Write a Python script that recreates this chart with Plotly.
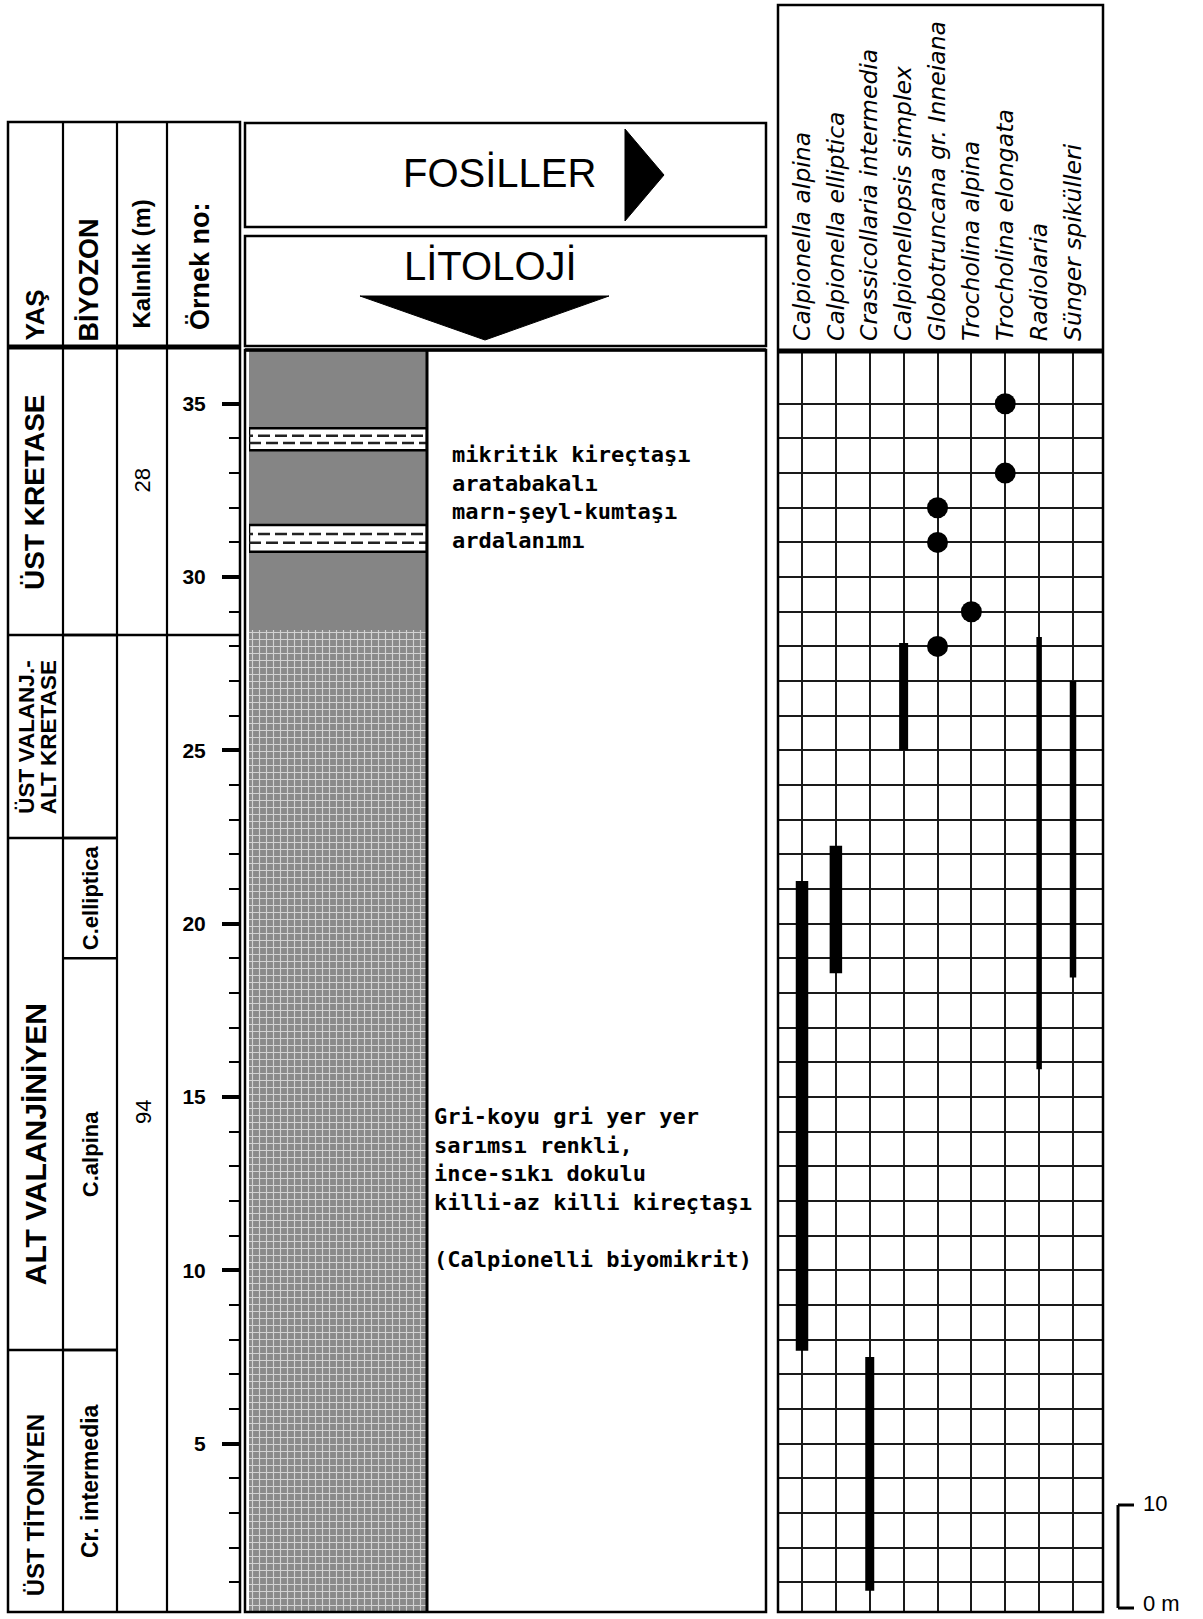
import plotly.graph_objects as go

W, H = 1203, 1619

# ---------------- data ----------------
sample_major = [5, 10, 15, 20, 25, 30, 35]
sample_minor = [1, 2, 3, 4, 6, 7, 8, 9, 11, 12, 13, 14, 16, 17, 18, 19,
                21, 22, 23, 24, 26, 27, 28, 29, 31, 32, 33, 34]
sample_grid = [1, 2, 3, 4, 5, 6, 7, 8, 9, 10, 11, 12, 13, 14, 15, 16, 17, 18,
               19, 20, 21, 22, 23, 24, 25, 26, 27, 28, 29, 30, 31, 32, 33, 34, 35]
y_range = [0.14, 36.58]

age_names = ["ÜST TİTONİYEN", "ALT VALANJİNİYEN", "ÜST VALANJ.-<br>ALT KRETASE", "ÜST KRETASE"]
age_bounds = [0.14, 7.70, 22.47, 28.33, 36.58]

biozone_names = ["Cr. intermedia", "C.alpina", "C.elliptica", "", ""]
biozone_bounds = [0.14, 7.70, 19.0, 22.47, 28.33, 36.58]

thickness_labels = ["94", "28"]
thickness_bounds = [0.14, 28.33, 36.58]

lith_lower = [0.14, 28.47]      # killi kireçtaşı
lith_upper = [28.47, 36.58]     # marn-şeyl-kumtaşı ardalanımı
limestone_beds_bottom = [30.73, 33.66]
limestone_beds_top = [31.50, 34.29]

desc_upper = ["mikritik kireçtaşı", "aratabakalı", "marn-şeyl-kumtaşı", "ardalanımı"]
desc_lower = ["Gri-koyu gri yer yer", "sarımsı renkli,", "ince-sıkı dokulu",
              "killi-az killi kireçtaşı", " ", "(Calpionelli biyomikrit)"]

taxa = ["Calpionella alpina", "Calpionella elliptica", "Crassicollaria intermedia",
        "Calpionellopsis simplex", "Globotruncana gr. Inneiana", "Trocholina alpina",
        "Trocholina elongata", "Radiolaria", "Sünger spikülleri"]

range_taxa = ["Calpionella alpina", "Calpionella elliptica", "Crassicollaria intermedia",
              "Calpionellopsis simplex", "Radiolaria", "Sünger spikülleri"]
range_bottom = [7.68, 18.57, 0.75, 25.0, 15.8, 18.45]
range_top = [21.23, 22.25, 7.5, 28.1, 28.27, 27.0]

point_taxa = ["Trocholina elongata", "Trocholina elongata", "Globotruncana gr. Inneiana",
              "Globotruncana gr. Inneiana", "Trocholina alpina", "Globotruncana gr. Inneiana"]
point_samples = [35, 33, 32, 31, 29, 28]

# ---------------- styles / placement tweaks ----------------
range_line_widths = [12.5, 12.5, 9, 9, 5.5, 6.5]
age_font_sizes = [24, 30, 22.5, 28]
age_label_shift = [-0.7, -1.45, 0.0, 0.0]     # label offset inside its cell (axis units)
biozone_font_sizes = [23, 22, 22, 22, 22]
thickness_label_shift = 0.33
col_edges = [8, 63, 117, 167, 240]
BLACK = "black"
SANS = "Liberation Sans"
MONO = "DejaVu Sans Mono"


def X(px):
    return px / W


def Y(px):
    return 1 - px / H


Y_DOM = [Y(1612), Y(349)]

fig = go.Figure()

# ---- left table horizontal boundaries (data y) ----
tx, ty = [], []
for b in age_bounds[1:-1]:
    tx += [col_edges[0], col_edges[2], None]
    ty += [b, b, None]
for b in biozone_bounds[1:-1]:
    tx += [col_edges[1], col_edges[2], None]
    ty += [b, b, None]
for b in thickness_bounds[1:-1]:
    tx += [col_edges[2], col_edges[4], None]
    ty += [b, b, None]
fig.add_trace(go.Scatter(x=tx, y=ty, mode="lines", line=dict(color=BLACK, width=2.5),
                         xaxis="x", yaxis="y", hoverinfo="skip", showlegend=False,
                         cliponaxis=False))

# ---- lithology column ----
fig.add_trace(go.Bar(
    x=[0.5], width=[1], base=[lith_lower[0]], y=[lith_lower[1] - lith_lower[0]],
    marker=dict(color="#8e8e8e", line=dict(width=0),
                pattern=dict(shape="+", size=7, solidity=0.3, fgcolor="#d2d2d2",
                             bgcolor="#8a8a8a", fillmode="replace")),
    xaxis="x2", yaxis="y2", hoverinfo="skip", showlegend=False))
fig.add_trace(go.Bar(
    x=[0.5], width=[1], base=[lith_upper[0]], y=[lith_upper[1] - lith_upper[0]],
    marker=dict(color="#858585", line=dict(width=0)),
    xaxis="x2", yaxis="y2", hoverinfo="skip", showlegend=False))
for b0, b1 in zip(limestone_beds_bottom, limestone_beds_top):
    fig.add_trace(go.Bar(
        x=[0.5], width=[1], base=[b0], y=[b1 - b0],
        marker=dict(color="white", line=dict(width=2.5, color=BLACK)),
        xaxis="x2", yaxis="y2", hoverinfo="skip", showlegend=False))
    h = b1 - b0
    for k, xs in ((1, 0.0), (2, -0.045)):
        fig.add_trace(go.Scatter(
            x=[xs, 1.0], y=[b0 + h * k / 3.0] * 2, mode="lines",
            line=dict(color="#222222", width=2.5, dash="12px,5px"),
            xaxis="x2", yaxis="y2", hoverinfo="skip", showlegend=False))

# ---- fossil ranges ----
taxon_pos = {t: i + 1 for i, t in enumerate(taxa)}
for t, b0, b1, w in zip(range_taxa, range_bottom, range_top, range_line_widths):
    fig.add_trace(go.Scatter(x=[taxon_pos[t]] * 2, y=[b0, b1], mode="lines",
                             line=dict(color=BLACK, width=w),
                             xaxis="x3", yaxis="y3", hoverinfo="skip", showlegend=False))
fig.add_trace(go.Scatter(x=[taxon_pos[t] for t in point_taxa], y=point_samples,
                         mode="markers", marker=dict(color=BLACK, size=21),
                         xaxis="x3", yaxis="y3", hoverinfo="skip", showlegend=False))

# ---------------- shapes (frames) ----------------
shapes = []


def rect(x0, y0, x1, y1, lw=2.5):
    shapes.append(dict(type="rect", xref="paper", yref="paper", x0=X(x0), x1=X(x1),
                       y0=Y(y1), y1=Y(y0), line=dict(color=BLACK, width=lw),
                       fillcolor="rgba(0,0,0,0)", layer="above"))


def seg(x0, y0, x1, y1, lw=2.5):
    shapes.append(dict(type="line", xref="paper", yref="paper", x0=X(x0), x1=X(x1),
                       y0=Y(y0), y1=Y(y1), line=dict(color=BLACK, width=lw), layer="above"))


def tri(pts):
    p = "M " + " L ".join(f"{X(a):.5f},{Y(b):.5f}" for a, b in pts) + " Z"
    shapes.append(dict(type="path", xref="paper", yref="paper", path=p,
                       fillcolor=BLACK, line=dict(color=BLACK, width=1), layer="above"))


# left table
rect(col_edges[0], 122, col_edges[4], 1612)
for cx in col_edges[1:4]:
    seg(cx, 122, cx, 1612, 2.2)
seg(col_edges[0], 347, col_edges[4], 347, 5)

# header boxes
rect(245, 123, 766, 227)
rect(245, 236, 766, 346)
tri([(625, 129), (625, 221), (664, 175)])
tri([(360, 296), (609, 296), (485, 340)])

# lithology / description frame
rect(245, 350, 766, 1612)
seg(245, 350, 766, 350, 3.5)
seg(427, 350, 427, 1612, 3)

# fossil frame
rect(778, 5, 1103, 1612)
seg(778, 351, 1103, 351, 5)

# scale bar
seg(1118, 1505, 1118, 1608, 3)
seg(1118, 1505, 1134, 1505, 3)
seg(1118, 1608, 1134, 1608, 3)

# ---------------- annotations ----------------
ann = []


def A(text, x, y, size, xref="paper", yref="paper", family=SANS, weight="normal",
      angle=0, xanchor="center", yanchor="middle", align="center", style="normal"):
    ann.append(dict(text=text, x=x, y=y, xref=xref, yref=yref, showarrow=False,
                    textangle=angle, xanchor=xanchor, yanchor=yanchor, align=align,
                    font=dict(family=family, size=size, color=BLACK, weight=weight,
                              style=style)))


# headers of left table
A("YAŞ", X(35), Y(343), 26, weight="bold", angle=-90, yanchor="bottom")
A("BİYOZON", X(89), Y(344), 27, weight="bold", angle=-90, yanchor="bottom")
A("Kalınlık (m)", X(141), Y(331), 24, weight="bold", angle=-90, yanchor="bottom")
A("Örnek no:", X(200), Y(332), 27, weight="bold", angle=-90, yanchor="bottom")

# ages
for name, b0, b1, fs, sh in zip(age_names, age_bounds[:-1], age_bounds[1:],
                                age_font_sizes, age_label_shift):
    parts = name.split("<br>")
    if len(parts) == 1:
        A(name, X(35), (b0 + b1) / 2 + sh, fs, yref="y", weight="bold", angle=-90)
    else:
        for line, cx in zip(parts, (27, 48)):
            A(line, X(cx), b0 + 0.63, fs, yref="y", weight="bold", angle=-90,
              yanchor="bottom")

# biozones
for name, b0, b1, fs in zip(biozone_names, biozone_bounds[:-1], biozone_bounds[1:],
                            biozone_font_sizes):
    if name:
        A(name, X(90), (b0 + b1) / 2, fs, yref="y", weight="bold", angle=-90)

# thickness
for name, b0, b1 in zip(thickness_labels, thickness_bounds[:-1], thickness_bounds[1:]):
    A(name, X(143), (b0 + b1) / 2 + thickness_label_shift, 22, yref="y", angle=-90)

# header titles
A("FOSİLLER", X(499), Y(173), 40)
A("LİTOLOJİ", X(490), Y(266), 40)

# descriptions
A("<br>".join(desc_upper), X(450), Y(497), 22, family=MONO, weight="bold",
  xanchor="left", align="left")
A("<br>".join(desc_lower), X(432), Y(1188), 22, family=MONO, weight="bold",
  xanchor="left", align="left")

# scale bar labels
A("10", X(1141), Y(1503), 22, xanchor="left")
A("0 m", X(1141), Y(1603), 22, xanchor="left")

# ---------------- layout ----------------
fig.update_layout(
    width=W, height=H, margin=dict(l=0, r=0, t=0, b=0, pad=0),
    paper_bgcolor="white", plot_bgcolor="white", showlegend=False,
    barmode="overlay", font=dict(family=SANS, color=BLACK),
    xaxis=dict(domain=[X(8), X(240)], range=[8, 240], visible=False, fixedrange=True,
               anchor="y"),
    yaxis=dict(domain=Y_DOM, range=y_range, anchor="free", position=X(240), side="left",
               tickmode="array", tickvals=sample_major,
               ticktext=[str(v) for v in sample_major],
               ticks="outside", ticklen=18, tickwidth=4, tickcolor=BLACK,
               showline=False, showgrid=False, zeroline=False,
               tickfont=dict(family=SANS, size=21, color=BLACK, weight="bold"),
               ticklabelstandoff=12,
               minor=dict(tickmode="array", tickvals=sample_minor, ticks="outside",
                          ticklen=11, tickwidth=2, tickcolor=BLACK, showgrid=False)),
    xaxis2=dict(domain=[X(249), X(427)], range=[0, 1], visible=False, anchor="y2"),
    yaxis2=dict(domain=Y_DOM, range=y_range, visible=False, anchor="x2"),
    xaxis3=dict(domain=[X(778), X(1103)], range=[0.2915, 9.8856], anchor="y3",
                side="top", tickmode="array", tickvals=list(range(1, 10)), ticktext=taxa,
                tickangle=-90, ticks="", showgrid=True, gridcolor="#1a1a1a", gridwidth=2,
                zeroline=False, showline=False, automargin=False,
                tickfont=dict(family="DejaVu Sans", size=23.5, color=BLACK,
                              style="italic"),
                ticklabelstandoff=7),
    yaxis3=dict(domain=Y_DOM, range=y_range, anchor="x3", tickmode="array",
                tickvals=sample_grid, showticklabels=False, ticks="", showgrid=True,
                gridcolor="#1a1a1a", gridwidth=2, zeroline=False, showline=False),
    shapes=shapes, annotations=ann,
)

fig.write_html("out.html", config={"displayModeBar": False},
               post_script="document.body.style.margin='0';document.body.style.overflow='hidden';")
